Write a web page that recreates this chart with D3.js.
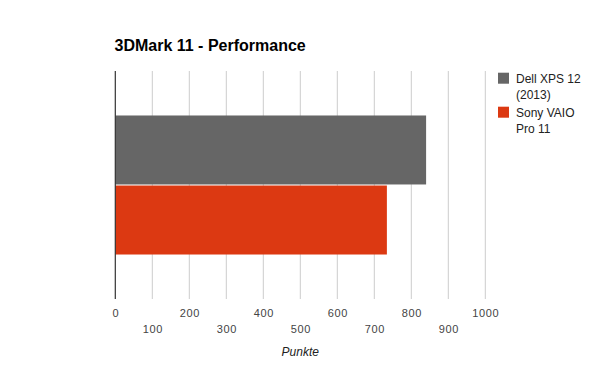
<!DOCTYPE html>
<html><head><meta charset="utf-8">
<script src="https://cdn.jsdelivr.net/npm/d3@7"></script>
<style>body{margin:0;background:#fff}svg{display:block}</style>
</head><body><svg id="c" width="600" height="371" font-family="'Liberation Sans',Arial,sans-serif"></svg>
<script>
const categories = ["3DMark 11 - Performance"];
const seriesNames = ["Dell XPS 12 (2013)", "Sony VAIO Pro 11"];
const seriesLegendLines = [["Dell XPS 12", "(2013)"], ["Sony VAIO", "Pro 11"]];
const seriesValues = [840, 734];
const seriesColors = ["#666666", "#dc3912"];
const tickValues = [0,100,200,300,400,500,600,700,800,900,1000];
const axisTitle = "Punkte";
const chartTitle = "3DMark 11 - Performance";

const FONT = "'Liberation Sans',Arial,sans-serif";
const svg = d3.select("#c");
const m = {left:115.3, right:485.3, top:71, bottom:299};
const x = d3.scaleLinear().domain([0,1000]).range([m.left, m.right]);
const y0 = d3.scaleBand().domain(categories).range([m.top, m.bottom]).paddingInner(0).paddingOuter(0.32);
const y1 = d3.scaleBand().domain(seriesNames).range([0, y0.bandwidth()]).paddingInner(0.015);

svg.append("text").attr("x",114.5).attr("y",50.5).attr("font-size",16).attr("font-weight","bold").attr("fill","#000").attr("font-family",FONT).text(chartTitle);

// gridlines
svg.append("g").selectAll("line").data(tickValues.filter(d=>d>0)).join("line")
  .attr("x1",d=>x(d)).attr("x2",d=>x(d)).attr("y1",m.top).attr("y2",m.bottom)
  .attr("stroke","#cccccc").attr("stroke-width",1);

// bars
const g = svg.append("g").attr("transform",`translate(0,${y0(categories[0])})`);
g.selectAll("rect").data(seriesValues).join("rect")
  .attr("x",x(0)).attr("y",(d,i)=>y1(seriesNames[i]))
  .attr("width",d=>x(d)-x(0)).attr("height",y1.bandwidth())
  .attr("fill",(d,i)=>seriesColors[i]);

// zero axis line
svg.append("line").attr("x1",x(0)).attr("x2",x(0)).attr("y1",m.top).attr("y2",m.bottom).attr("stroke","#333").attr("stroke-width",1.2);

// tick labels (staggered)
const axis = d3.axisBottom(x).tickValues(tickValues).tickFormat(d3.format("d")).tickSize(0).tickPadding(0);
const ag = svg.append("g").attr("transform",`translate(0,${m.bottom})`).call(axis)
  .attr("font-family",FONT).attr("font-size",11).attr("color","#444");
ag.select(".domain").remove();
ag.selectAll(".tick text").attr("fill","#444").attr("letter-spacing",0.6)
  .attr("dy",null).attr("y",(d,i)=>i%2===0?18:34);

svg.append("text").attr("x",(m.left+m.right)/2).attr("y",356).attr("text-anchor","middle").attr("font-family",FONT)
  .attr("font-size",12).attr("font-style","italic").attr("fill","#222").text(axisTitle);

// legend
const lg = svg.append("g").attr("font-family",FONT);
seriesNames.forEach((s,i)=>{
  const top = 72.7 + i*34;
  lg.append("rect").attr("x",498).attr("y",top).attr("width",11).attr("height",11).attr("fill",seriesColors[i]);
  seriesLegendLines[i].forEach((ln,j)=>{
    lg.append("text").attr("x",516).attr("y",top+10+j*16).attr("font-size",12).attr("fill","#222").text(ln);
  });
});
</script></body></html>
